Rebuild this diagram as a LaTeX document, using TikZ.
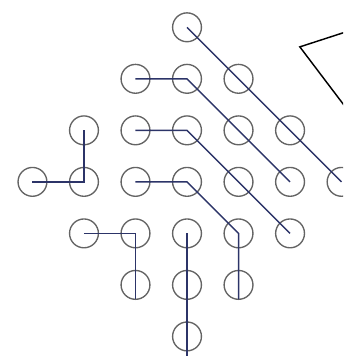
\documentclass[tikz,border=0pt]{standalone}
\usetikzlibrary{calc}
\definecolor{pathblue}{RGB}{44,52,104}
\definecolor{ringgray}{RGB}{100,100,100}

\begin{document}
\begin{tikzpicture}[
  dot/.style={circle, draw=ringgray, line width=0.75pt, minimum size=0.56cm, inner sep=0pt, outer sep=0pt},
  link/.style={draw=pathblue, line width=0.8pt}
]
\useasboundingbox (-3.63,-3.38) rectangle (3.03,3.53);
\clip (-3.63,-3.38) rectangle (3.03,3.53);
% Diamond of circles, p<col><row>, row counted from the top
\foreach \c in {1,...,7} {
  \foreach \r in {1,...,7} {
    \pgfmathtruncatemacro{\d}{abs(\c-4)+abs(\r-4)}
    \ifnum\d<4
      \node[dot] (p\c\r) at (\c-4,4-\r) {};
    \fi
  }
}
% Paths through the circles
\draw[link] (p41.center) -- (p74.center);
\draw[link] (p32.center) -- (p42.center) -- (p64.center);
\draw[link] (p33.center) -- (p43.center) -- (p65.center);
\draw[link] (p34.center) -- (p44.center) -- (p55.center) -- (p56.south);
\draw[link] (p14.center) -- (p24.center) -- (p23.center);
\draw[link] (p25.center) -- (p35.center) -- (p36.south);
\draw[link] (p45.center) -- ($(p47.south)+(0,-0.12)$);
% Open wedge at the top right
\coordinate (apex) at (2.19,2.62);
\coordinate (armA) at ($(apex)+(1.2,0.39)$);
\coordinate (armB) at ($(apex)+(1.0,-1.32)$);
\draw[black, line width=0.8pt] (armA) -- (apex) -- (armB);
\end{tikzpicture}
\end{document}
